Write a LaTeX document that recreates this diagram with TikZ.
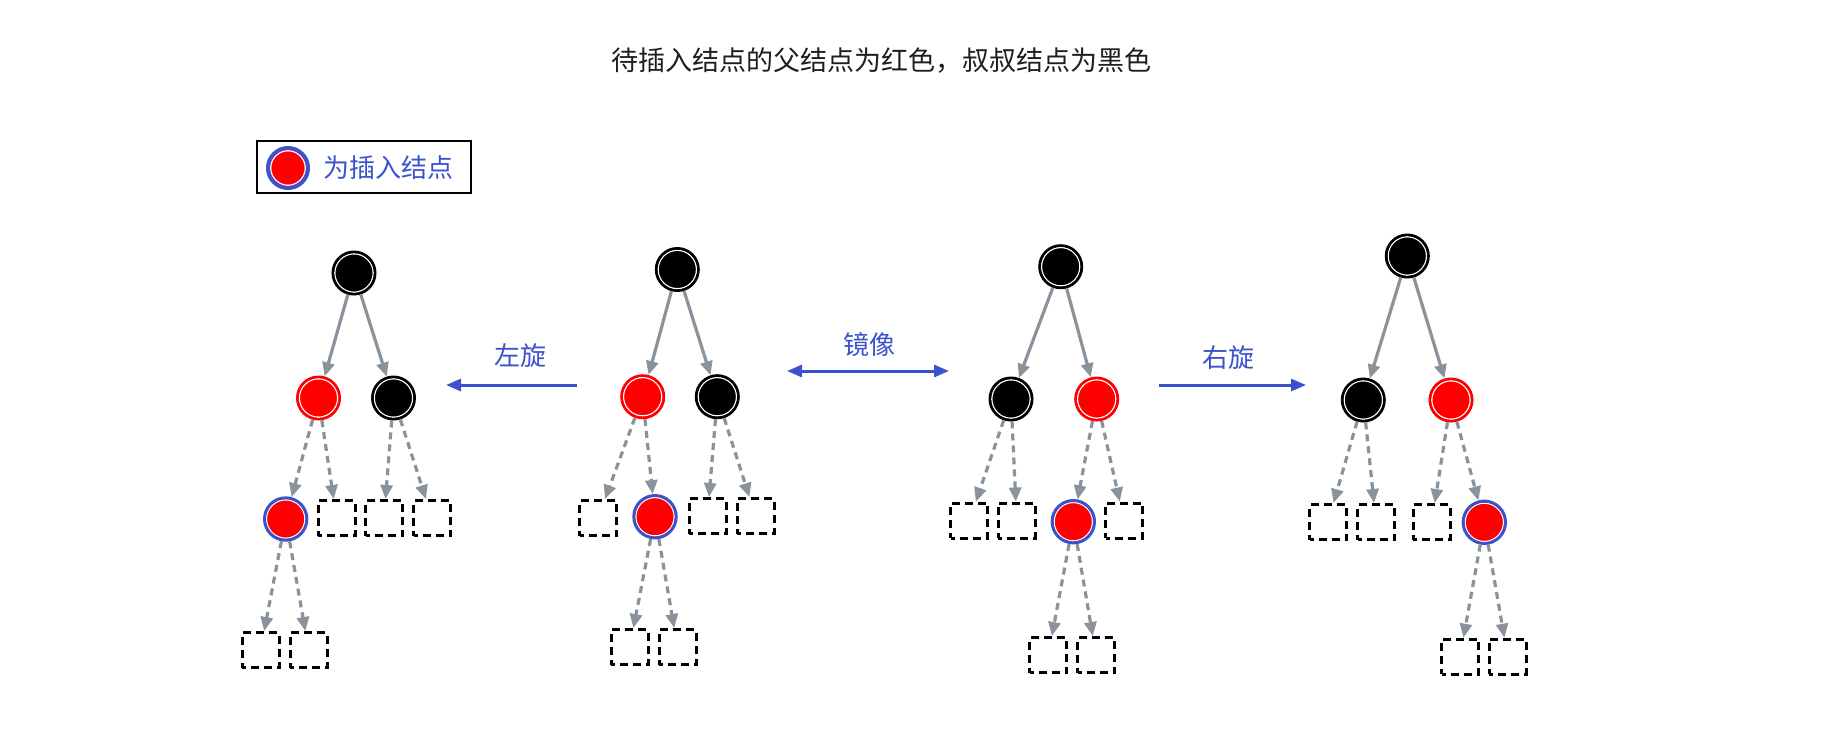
\documentclass[tikz,border=0pt]{standalone}
\usepackage{fontspec}
\newfontfamily\cjk{Noto Sans CJK SC}
\usetikzlibrary{arrows.meta}
\definecolor{edgegray}{RGB}{138,147,155}
\definecolor{myblue}{RGB}{59,82,204}
\tikzset{
  whiteline/.style={path picture={\draw[white, line width=1.3pt] (path picture bounding box.center) circle (#1);}},
  rb/.style={circle, minimum size=42.4pt, inner sep=0pt, line width=2.6pt, outer sep=1.3pt, whiteline=19.2pt},
  bnode/.style={rb, draw=black, fill=black},
  rnode/.style={rb, draw=red, fill=red},
  inode/.style={rb, draw=myblue, line width=3pt, outer sep=1.5pt, fill=red},
  sq/.style={rectangle, draw=black, line width=3pt, dash pattern=on 8pt off 5pt, dash phase=4pt, minimum width=37pt, minimum height=35pt, inner sep=0pt, outer sep=1.5pt},
  gedge/.style={draw=edgegray, line width=3.2pt, -{Triangle[length=14pt,width=12pt]}},
  dedge/.style={gedge, dash pattern=on 7pt off 5pt},
  barrow/.style={draw=myblue, line width=3pt},
  blabel/.style={text=myblue, font=\cjk\fontsize{26}{30}\selectfont, inner sep=0pt},
}
\begin{document}
\begin{tikzpicture}[x=1pt,y=-1pt]
\useasboundingbox (0,0) rectangle (1843,753);

% title
\node[font=\cjk\fontsize{27}{32}\selectfont, text={rgb,255:red,30;green,30;blue,30}, inner sep=0pt] (title) at (881,61) {待插入结点的父结点为红色，叔叔结点为黑色};

% legend
\node[draw=black, line width=2.5pt, minimum width=214pt, minimum height=52pt, inner sep=0pt] (legend) at (364,167) {};
\node[circle, draw=myblue, fill=red, line width=4pt, minimum size=40pt, inner sep=0pt, whiteline=17.3pt] (lgc) at (288,168) {};
\node[blabel, anchor=west] (lgt) at (323,168) {为插入结点};

% tree 1
\node[bnode] (a1) at (354,273) {};
\node[rnode] (a2) at (318.5,398) {};
\node[bnode] (a3) at (393.5,398) {};
\node[inode] (a4) at (285.7,519) {};
\node[sq] (as1) at (336.5,518) {};
\node[sq] (as2) at (384,518) {};
\node[sq] (as3) at (432,518) {};
\node[sq] (ab1) at (260.5,650) {};
\node[sq] (ab2) at (308.7,650) {};
\draw[gedge] (a1) -- (a2);
\draw[gedge] (a1) -- (a3);
\draw[dedge] (a2) -- (a4);
\draw[dedge] (a2) -- (as1);
\draw[dedge] (a3) -- (as2);
\draw[dedge] (a3) -- (as3);
\draw[dedge] (a4) -- (ab1);
\draw[dedge] (a4) -- (ab2);

% tree 2
\node[bnode] (b1) at (677.3,269.5) {};
\node[rnode] (b2) at (642.7,396.7) {};
\node[bnode] (b3) at (717.3,396.7) {};
\node[sq] (bs1) at (598,518) {};
\node[inode] (b4) at (655,516.7) {};
\node[sq] (bs2) at (707.5,516) {};
\node[sq] (bs3) at (755.5,516) {};
\node[sq] (bb1) at (629.7,647) {};
\node[sq] (bb2) at (677.5,647) {};
\draw[gedge] (b1) -- (b2);
\draw[gedge] (b1) -- (b3);
\draw[dedge] (b2) -- (bs1);
\draw[dedge] (b2) -- (b4);
\draw[dedge] (b3) -- (bs2);
\draw[dedge] (b3) -- (bs3);
\draw[dedge] (b4) -- (bb1);
\draw[dedge] (b4) -- (bb2);

% tree 3
\node[bnode] (c1) at (1060.7,266.7) {};
\node[bnode] (c2) at (1011,399) {};
\node[rnode] (c3) at (1096.7,399) {};
\node[sq] (cs1) at (969.3,520.5) {};
\node[sq] (cs2) at (1016.7,520.5) {};
\node[inode] (c4) at (1073.3,521.7) {};
\node[sq] (cs3) at (1124,520.5) {};
\node[sq] (cb1) at (1048.3,655) {};
\node[sq] (cb2) at (1096,655) {};
\draw[gedge] (c1) -- (c2);
\draw[gedge] (c1) -- (c3);
\draw[dedge] (c2) -- (cs1);
\draw[dedge] (c2) -- (cs2);
\draw[dedge] (c3) -- (c4);
\draw[dedge] (c3) -- (cs3);
\draw[dedge] (c4) -- (cb1);
\draw[dedge] (c4) -- (cb2);

% tree 4
\node[bnode] (d1) at (1407.3,256) {};
\node[bnode] (d2) at (1363.3,400) {};
\node[rnode] (d3) at (1451,400) {};
\node[sq] (ds1) at (1328,522) {};
\node[sq] (ds2) at (1376,522) {};
\node[sq] (ds3) at (1431.7,522) {};
\node[inode] (d4) at (1484.3,522.3) {};
\node[sq] (db1) at (1460,656.7) {};
\node[sq] (db2) at (1507.7,656.7) {};
\draw[gedge] (d1) -- (d2);
\draw[gedge] (d1) -- (d3);
\draw[dedge] (d2) -- (ds1);
\draw[dedge] (d2) -- (ds2);
\draw[dedge] (d3) -- (ds3);
\draw[dedge] (d3) -- (d4);
\draw[dedge] (d4) -- (db1);
\draw[dedge] (d4) -- (db2);

% transformation arrows
\coordinate (l1s) at (577,385);
\coordinate (l1e) at (446,385);
\draw[barrow, -{Triangle[length=15pt,width=12pt]}] (l1s) -- (l1e);
\node[blabel] (l1t) at (520,356) {左旋};

\coordinate (m1s) at (787,371);
\coordinate (m1e) at (949,371);
\draw[barrow, {Triangle[length=15pt,width=12pt]}-{Triangle[length=15pt,width=12pt]}] (m1s) -- (m1e);
\node[blabel] (m1t) at (869,345) {镜像};

\coordinate (r1s) at (1159,385);
\coordinate (r1e) at (1306,385);
\draw[barrow, -{Triangle[length=15pt,width=12pt]}] (r1s) -- (r1e);
\node[blabel] (r1t) at (1228,358) {右旋};
\end{tikzpicture}
\end{document}
